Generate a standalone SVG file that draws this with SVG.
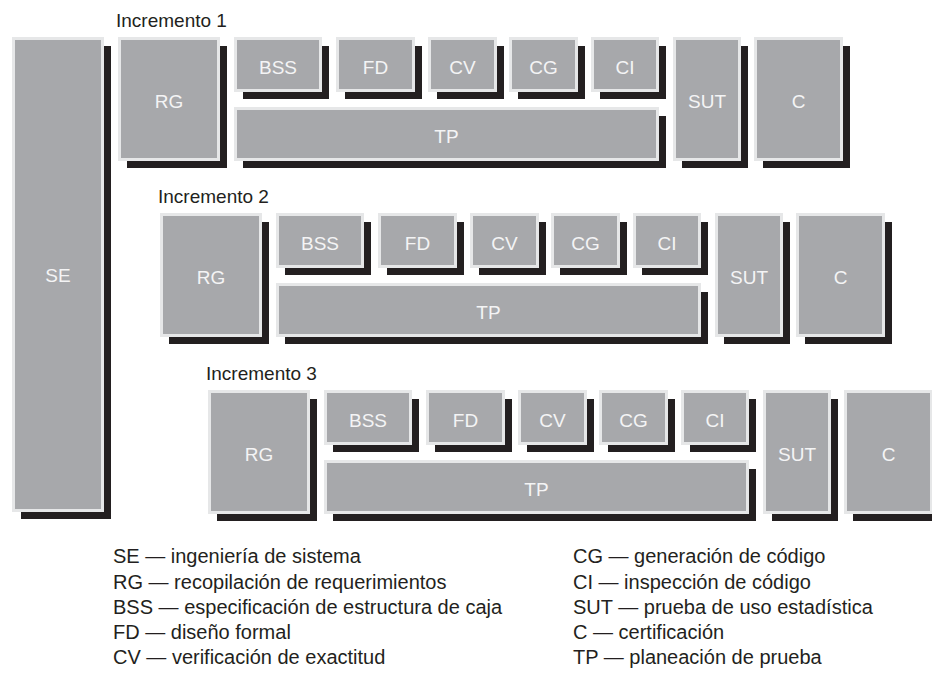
<svg xmlns="http://www.w3.org/2000/svg" width="932" height="674" viewBox="0 0 932 674">
<style>
.sh{fill:#231f20}
.bx{fill:#a7a8ab;stroke:#e6e7e8;stroke-width:3}
.lb{font-family:"Liberation Sans",Arial,sans-serif;font-size:19px;fill:#f4f4f5;text-anchor:middle}
.inc{font-family:"Liberation Sans",Arial,sans-serif;font-size:19px;fill:#231f20}
.lg{font-family:"Liberation Sans",Arial,sans-serif;font-size:20px;fill:#231f20}
</style>
<rect width="932" height="674" fill="#ffffff"/>
<g id="SE">
<rect class="sh" x="21" y="46" width="90" height="473"/>
<rect class="bx" x="13.5" y="38.5" width="89" height="472"/>
<text class="lb" x="58" y="282">SE</text>
</g>
<g id="inc1" transform="translate(0,0)">
<text class="inc" x="116" y="27">Incremento 1</text>
<g id="RG1"><rect class="sh" x="127" y="46" width="100" height="122"/><rect class="bx" x="119.5" y="38.5" width="99" height="121"/><text class="lb" x="169" y="108">RG</text></g>
<g id="BSS1"><rect class="sh" x="243" y="46" width="86" height="53"/><rect class="bx" x="235.5" y="38.5" width="85" height="52"/><text class="lb" x="278" y="74">BSS</text></g>
<g id="FD1"><rect class="sh" x="345" y="46" width="77" height="53"/><rect class="bx" x="337.5" y="38.5" width="76" height="52"/><text class="lb" x="375.5" y="74">FD</text></g>
<g id="CV1"><rect class="sh" x="437" y="46" width="67" height="53"/><rect class="bx" x="429.5" y="38.5" width="66" height="52"/><text class="lb" x="462.5" y="74">CV</text></g>
<g id="CG1"><rect class="sh" x="518" y="46" width="67" height="53"/><rect class="bx" x="510.5" y="38.5" width="66" height="52"/><text class="lb" x="543.5" y="74">CG</text></g>
<g id="CI1"><rect class="sh" x="600" y="46" width="66" height="53"/><rect class="bx" x="592.5" y="38.5" width="65" height="52"/><text class="lb" x="625" y="74">CI</text></g>
<g id="TP1"><rect class="sh" x="243" y="116" width="423" height="52"/><rect class="bx" x="235.5" y="108.5" width="422" height="51"/><text class="lb" x="446.5" y="143">TP</text></g>
<g id="SUT1"><rect class="sh" x="682" y="46" width="66" height="122"/><rect class="bx" x="674.5" y="38.5" width="65" height="121"/><text class="lb" x="707" y="108">SUT</text></g>
<g id="C1"><rect class="sh" x="763" y="46" width="87" height="122"/><rect class="bx" x="755.5" y="38.5" width="86" height="121"/><text class="lb" x="798.5" y="108">C</text></g>
</g>
<g id="inc2" transform="translate(42,176)">
<text class="inc" x="116" y="27">Incremento 2</text>
<g id="RG2"><rect class="sh" x="127" y="46" width="100" height="122"/><rect class="bx" x="119.5" y="38.5" width="99" height="121"/><text class="lb" x="169" y="108">RG</text></g>
<g id="BSS2"><rect class="sh" x="243" y="46" width="86" height="53"/><rect class="bx" x="235.5" y="38.5" width="85" height="52"/><text class="lb" x="278" y="74">BSS</text></g>
<g id="FD2"><rect class="sh" x="345" y="46" width="77" height="53"/><rect class="bx" x="337.5" y="38.5" width="76" height="52"/><text class="lb" x="375.5" y="74">FD</text></g>
<g id="CV2"><rect class="sh" x="437" y="46" width="67" height="53"/><rect class="bx" x="429.5" y="38.5" width="66" height="52"/><text class="lb" x="462.5" y="74">CV</text></g>
<g id="CG2"><rect class="sh" x="518" y="46" width="67" height="53"/><rect class="bx" x="510.5" y="38.5" width="66" height="52"/><text class="lb" x="543.5" y="74">CG</text></g>
<g id="CI2"><rect class="sh" x="600" y="46" width="66" height="53"/><rect class="bx" x="592.5" y="38.5" width="65" height="52"/><text class="lb" x="625" y="74">CI</text></g>
<g id="TP2"><rect class="sh" x="243" y="116" width="423" height="52"/><rect class="bx" x="235.5" y="108.5" width="422" height="51"/><text class="lb" x="446.5" y="143">TP</text></g>
<g id="SUT2"><rect class="sh" x="682" y="46" width="66" height="122"/><rect class="bx" x="674.5" y="38.5" width="65" height="121"/><text class="lb" x="707" y="108">SUT</text></g>
<g id="C2"><rect class="sh" x="763" y="46" width="87" height="122"/><rect class="bx" x="755.5" y="38.5" width="86" height="121"/><text class="lb" x="798.5" y="108">C</text></g>
</g>
<g id="inc3" transform="translate(90,353)">
<text class="inc" x="116" y="27">Incremento 3</text>
<g id="RG3"><rect class="sh" x="127" y="46" width="100" height="122"/><rect class="bx" x="119.5" y="38.5" width="99" height="121"/><text class="lb" x="169" y="108">RG</text></g>
<g id="BSS3"><rect class="sh" x="243" y="46" width="86" height="53"/><rect class="bx" x="235.5" y="38.5" width="85" height="52"/><text class="lb" x="278" y="74">BSS</text></g>
<g id="FD3"><rect class="sh" x="345" y="46" width="77" height="53"/><rect class="bx" x="337.5" y="38.5" width="76" height="52"/><text class="lb" x="375.5" y="74">FD</text></g>
<g id="CV3"><rect class="sh" x="437" y="46" width="67" height="53"/><rect class="bx" x="429.5" y="38.5" width="66" height="52"/><text class="lb" x="462.5" y="74">CV</text></g>
<g id="CG3"><rect class="sh" x="518" y="46" width="67" height="53"/><rect class="bx" x="510.5" y="38.5" width="66" height="52"/><text class="lb" x="543.5" y="74">CG</text></g>
<g id="CI3"><rect class="sh" x="600" y="46" width="66" height="53"/><rect class="bx" x="592.5" y="38.5" width="65" height="52"/><text class="lb" x="625" y="74">CI</text></g>
<g id="TP3"><rect class="sh" x="243" y="116" width="423" height="52"/><rect class="bx" x="235.5" y="108.5" width="422" height="51"/><text class="lb" x="446.5" y="143">TP</text></g>
<g id="SUT3"><rect class="sh" x="682" y="46" width="66" height="122"/><rect class="bx" x="674.5" y="38.5" width="65" height="121"/><text class="lb" x="707" y="108">SUT</text></g>
<g id="C3"><rect class="sh" x="763" y="46" width="87" height="122"/><rect class="bx" x="755.5" y="38.5" width="86" height="121"/><text class="lb" x="798.5" y="108">C</text></g>
</g>
<g id="legend">
<text class="lg" x="113" y="563">SE — ingeniería de sistema</text>
<text class="lg" x="113" y="589">RG — recopilación de requerimientos</text>
<text class="lg" x="113" y="614">BSS — especificación de estructura de caja</text>
<text class="lg" x="113" y="639">FD — diseño formal</text>
<text class="lg" x="113" y="664">CV — verificación de exactitud</text>
<text class="lg" x="573" y="563">CG — generación de código</text>
<text class="lg" x="573" y="589">CI — inspección de código</text>
<text class="lg" x="573" y="614">SUT — prueba de uso estadística</text>
<text class="lg" x="573" y="639">C — certificación</text>
<text class="lg" x="573" y="664">TP — planeación de prueba</text>
</g>
</svg>
